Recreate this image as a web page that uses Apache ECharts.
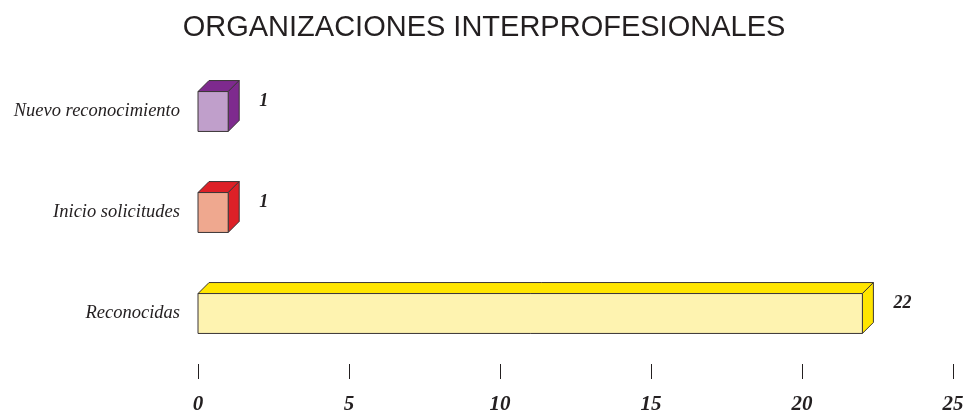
<!DOCTYPE html>
<html><head><meta charset="utf-8">
<script src="https://cdn.jsdelivr.net/npm/echarts@6/dist/echarts.min.js"></script>
<style>html,body{margin:0;padding:0;background:#fff}#c{width:968px;height:413px}</style>
</head><body><div id="c"></div>
<script>
var categories = ['Reconocidas', 'Inicio solicitudes', 'Nuevo reconocimiento'];
var values = [22, 1, 1];
var frontColors = ['#FEF3B0', '#EFA88F', '#C09FCB'];
var sideColors = ['#FFE500', '#DD2027', '#7E2A8E'];
var xTicks = [0, 5, 10, 15, 20, 25];

var chart = echarts.init(document.getElementById('c'));
var DX = 11, DY = 11;
chart.setOption({
  animation: false,
  title: {
    text: 'ORGANIZACIONES INTERPROFESIONALES',
    left: 'center', top: 8,
    textStyle: {fontFamily: 'Liberation Sans', fontSize: 29, fontWeight: 'normal', color: '#231F20'}
  },
  grid: {left: 198, right: 15, top: 61, bottom: 49, containLabel: false, outerBoundsMode: 'none'},
  xAxis: {
    type: 'value', min: xTicks[0], max: xTicks[xTicks.length - 1], interval: 5,
    offset: 0,
    axisLine: {show: false},
    axisTick: {show: true, length: 15, lineStyle: {color: '#231F20', width: 1}},
    splitLine: {show: false},
    axisLabel: {margin: 30, fontFamily: 'Liberation Serif', fontStyle: 'italic', fontWeight: 'bold', fontSize: 21, color: '#231F20'}
  },
  yAxis: {
    type: 'category', data: categories,
    axisLine: {show: false}, axisTick: {show: false},
    axisLabel: {margin: 18, fontFamily: 'Liberation Serif', fontStyle: 'italic', fontSize: 18.5, color: '#231F20'}
  },
  series: [{
    type: 'custom',
    data: values.map(function (v, i) { return [v, i]; }),
    renderItem: function (params, api) {
      var i = api.value(1);
      var v = api.value(0);
      var p0 = api.coord([0, i]);
      var p1 = api.coord([v, i]);
      var h = api.size([0, 1])[1] * 0.395;
      var x0 = p0[0], x1 = p1[0], yt = p0[1] - h / 2, yb = p0[1] + h / 2;
      var stroke = {stroke: '#3A3536', lineWidth: 1};
      return {
        type: 'group',
        children: [
          {type: 'polygon', shape: {points: [[x0, yt], [x0 + DX, yt - DY], [x1 + DX, yt - DY], [x1, yt]]},
            style: Object.assign({fill: sideColors[i]}, stroke)},
          {type: 'polygon', shape: {points: [[x1, yt], [x1 + DX, yt - DY], [x1 + DX, yb - DY], [x1, yb]]},
            style: Object.assign({fill: sideColors[i]}, stroke)},
          {type: 'rect', shape: {x: x0, y: yt, width: x1 - x0, height: h},
            style: Object.assign({fill: frontColors[i]}, stroke)},
          {type: 'text', x: x1 + DX + 20, y: p0[1] - DY + 1,
            style: {text: String(v), fill: '#231F20', font: 'italic bold 18px "Liberation Serif"', verticalAlign: 'middle', align: 'left'}}
        ]
      };
    }
  }]
});
</script></body></html>
